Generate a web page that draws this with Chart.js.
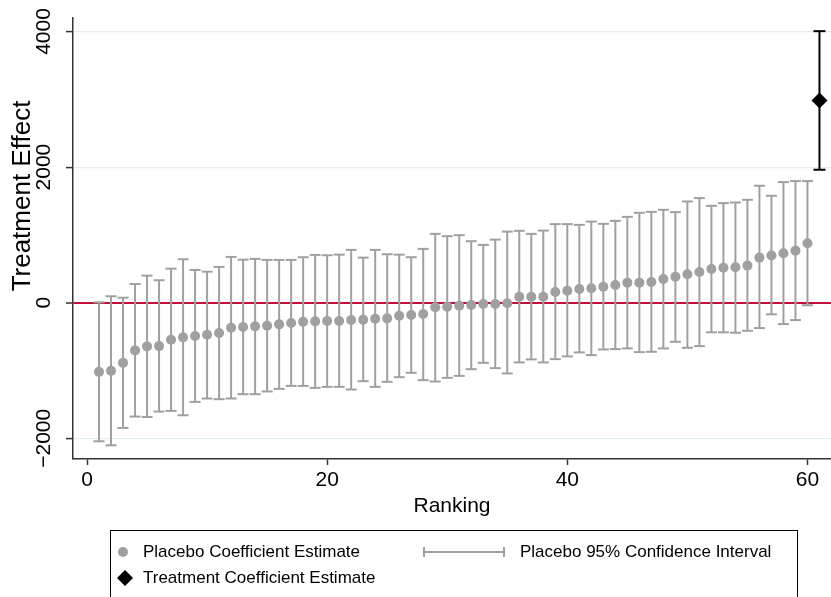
<!DOCTYPE html>
<html>
<head>
<meta charset="utf-8">
<title>Placebo ranking</title>
<script src="https://cdn.jsdelivr.net/npm/chart.js@4.4.1/dist/chart.umd.min.js"></script>
<style>
  html, body { margin: 0; padding: 0; background: #fff; }
  canvas { display: block; }
</style>
</head>
<body>
<canvas id="chart" width="831" height="597"></canvas>
<script>
// ranking position of each placebo estimate
const ranks = [1, 2, 3, 4, 5, 6, 7, 8, 9, 10, 11, 12, 13, 14, 15, 16, 17, 18, 19, 20,
  21, 22, 23, 24, 25, 26, 27, 28, 29, 30, 31, 32, 33, 34, 35, 36, 37, 38, 39, 40,
  41, 42, 43, 44, 45, 46, 47, 48, 49, 50, 51, 52, 53, 54, 55, 56, 57, 58, 59, 60];

const placeboEst = [-1020, -1005, -887, -703, -644, -640, -547, -511, -492, -473,
  -448, -369, -359, -349, -340, -319, -300, -281, -275, -270,
  -270, -256, -251, -236, -231, -192, -182, -167, -68, -59,
  -44, -34, -19, -19, -9, 89, 89, 89, 158, 177,
  202, 213, 236, 262, 296, 296, 306, 350, 384, 420,
  454, 498, 517, 523, 547, 665, 695, 730, 768, 878];

const placeboLo = [-2044, -2103, -1847, -1679, -1685, -1605, -1596, -1660, -1463, -1413,
  -1423, -1413, -1349, -1349, -1309, -1271, -1227, -1227, -1256, -1241,
  -1241, -1280, -1157, -1241, -1167, -1098, -1034, -1142, -1162, -1108,
  -1079, -980, -887, -965, -1043, -881, -836, -881, -832, -792,
  -733, -773, -689, -684, -674, -729, -724, -674, -576, -665,
  -640, -437, -437, -443, -414, -374, -171, -315, -256, -38];

const placeboHi = [6, 95, 74, 276, 399, 331, 502, 641, 483, 458,
  528, 675, 635, 646, 631, 631, 631, 671, 705, 700,
  709, 779, 665, 779, 715, 709, 671, 794, 1015, 981,
  996, 907, 853, 931, 1049, 1060, 1015, 1064, 1159, 1159,
  1148, 1197, 1163, 1207, 1266, 1326, 1340, 1370, 1336, 1493,
  1543, 1429, 1469, 1478, 1518, 1725, 1577, 1779, 1794, 1794];

const treatRank = [61];
const treatEst = [2981];
const treatLo = [1961];
const treatHi = [4005];

const xTicks = [0, 20, 40, 60];
const yTicks = [-2000, 0, 2000, 4000];

const FONT = '"Liberation Sans", Arial, Helvetica, sans-serif';
const GRAY = '#a0a0a0';
const BLACK = '#000000';
const RED = '#c0103c';
const AXIS = '#333333';

const points = (xs, ys) => xs.map((x, i) => ({ x: x, y: ys[i] }));
const spans = (xs, lo, hi) => xs.map((x, i) => ({ x: x, y: [lo[i], hi[i]] }));

// axis titles and the boxed legend underneath
const extras = {
    id: 'extras',
    afterDraw(chart) {
        const ctx = chart.ctx;
        ctx.save();
        ctx.fillStyle = '#000';

        // y title
        ctx.font = '26px ' + FONT;
        ctx.textAlign = 'center';
        ctx.textBaseline = 'middle';
        ctx.translate(23, 196);
        ctx.rotate(-Math.PI / 2);
        ctx.fillText('Treatment Effect', 0, 0);
        ctx.setTransform(1, 0, 0, 1, 0, 0);

        // legend box
        ctx.strokeStyle = '#000';
        ctx.lineWidth = 1;
        ctx.strokeRect(110.5, 530.5, 687, 80);

        const ds = chart.data.datasets;
        ctx.font = '17px ' + FONT;
        ctx.textAlign = 'left';
        ctx.textBaseline = 'middle';

        // placebo estimate
        ctx.fillStyle = ds[0].backgroundColor;
        ctx.beginPath();
        ctx.arc(123, 552, 5, 0, Math.PI * 2);
        ctx.fill();
        ctx.fillStyle = '#000';
        ctx.fillText(ds[0].label, 143, 552);

        // placebo CI
        ctx.strokeStyle = ds[1].backgroundColor;
        ctx.lineWidth = 2;
        ctx.beginPath();
        ctx.moveTo(423, 552); ctx.lineTo(505, 552);
        ctx.moveTo(424, 547); ctx.lineTo(424, 557);
        ctx.moveTo(504, 547); ctx.lineTo(504, 557);
        ctx.stroke();
        ctx.fillText(ds[1].label, 520, 552);

        // treatment estimate
        ctx.fillStyle = ds[5].backgroundColor;
        ctx.beginPath();
        ctx.moveTo(125, 570); ctx.lineTo(133, 578);
        ctx.lineTo(125, 586); ctx.lineTo(117, 578);
        ctx.closePath();
        ctx.fill();
        ctx.fillStyle = '#000';
        ctx.fillText(ds[5].label, 143, 578);

        ctx.restore();
    }
};

new Chart(document.getElementById('chart'), {
    type: 'scatter',
    data: {
        datasets: [
            {
                label: 'Placebo Coefficient Estimate',
                data: points(ranks, placeboEst),
                pointStyle: 'circle',
                pointRadius: 5,
                backgroundColor: GRAY,
                borderWidth: 0,
                order: 1
            },
            {
                type: 'bar',
                label: 'Placebo 95% Confidence Interval',
                data: spans(ranks, placeboLo, placeboHi),
                backgroundColor: GRAY,
                borderWidth: 0,
                grouped: false,
                maxBarThickness: 2,
                order: 4
            },
            {
                label: 'Placebo CI caps',
                data: points(ranks, placeboLo).concat(points(ranks, placeboHi)),
                pointStyle: 'line',
                pointRadius: 5.5,
                borderColor: GRAY,
                borderWidth: 2,
                order: 3
            },
            {
                type: 'bar',
                label: 'Treatment CI',
                data: spans(treatRank, treatLo, treatHi),
                backgroundColor: BLACK,
                borderWidth: 0,
                grouped: false,
                maxBarThickness: 2,
                order: 4
            },
            {
                label: 'Treatment CI caps',
                data: points(treatRank, treatLo).concat(points(treatRank, treatHi)),
                pointStyle: 'line',
                pointRadius: 6,
                borderColor: BLACK,
                borderWidth: 2,
                order: 3
            },
            {
                label: 'Treatment Coefficient Estimate',
                data: points(treatRank, treatEst),
                pointStyle: 'rectRot',
                pointRadius: 8,
                backgroundColor: BLACK,
                borderWidth: 0,
                order: 0
            }
        ]
    },
    options: {
        responsive: false,
        animation: false,
        events: [],
        layout: { autoPadding: false, padding: { top: 18, right: 0, bottom: 78, left: 0 } },
        plugins: {
            legend: { display: false },
            tooltip: { enabled: false }
        },
        scales: {
            x: {
                type: 'linear',
                min: -1.166,
                max: 61.96,
                offset: false,
                afterBuildTicks: s => { s.ticks = xTicks.map(v => ({ value: v })); },
                afterFit: s => { s.height = 60; s.paddingLeft = 0; s.paddingRight = 0; },
                grid: { drawOnChartArea: false, tickLength: 6, tickColor: AXIS, tickWidth: 1.5, offset: false },
                border: { color: AXIS, width: 1.5 },
                ticks: { font: { family: FONT, size: 21 }, color: '#000', padding: 3, maxRotation: 0 },
                title: {
                    display: true,
                    text: 'Ranking',
                    font: { family: FONT, size: 21 },
                    color: '#000',
                    padding: { top: 0, bottom: 0 }
                }
            },
            y: {
                min: -2305,
                max: 4199,
                afterBuildTicks: s => { s.ticks = yTicks.map(v => ({ value: v })); },
                afterFit: s => { s.width = 73; s.paddingTop = 0; s.paddingBottom = 0; },
                grid: {
                    color: c => c.tick && c.tick.value === 0 ? RED : '#e4eef1',
                    lineWidth: c => c.tick && c.tick.value === 0 ? 2 : 1.2,
                    tickColor: AXIS,
                    tickLength: 7,
                    tickWidth: 1.5
                },
                border: { color: AXIS, width: 1.5 },
                ticks: {
                    font: { family: FONT, size: 21 },
                    color: '#000',
                    minRotation: 90,
                    maxRotation: 90,
                    crossAlign: 'center',
                    padding: -8,
                    callback: v => String(v).replace('-', '\u2212')
                }
            }
        }
    },
    plugins: [extras]
});
</script>
</body>
</html>
